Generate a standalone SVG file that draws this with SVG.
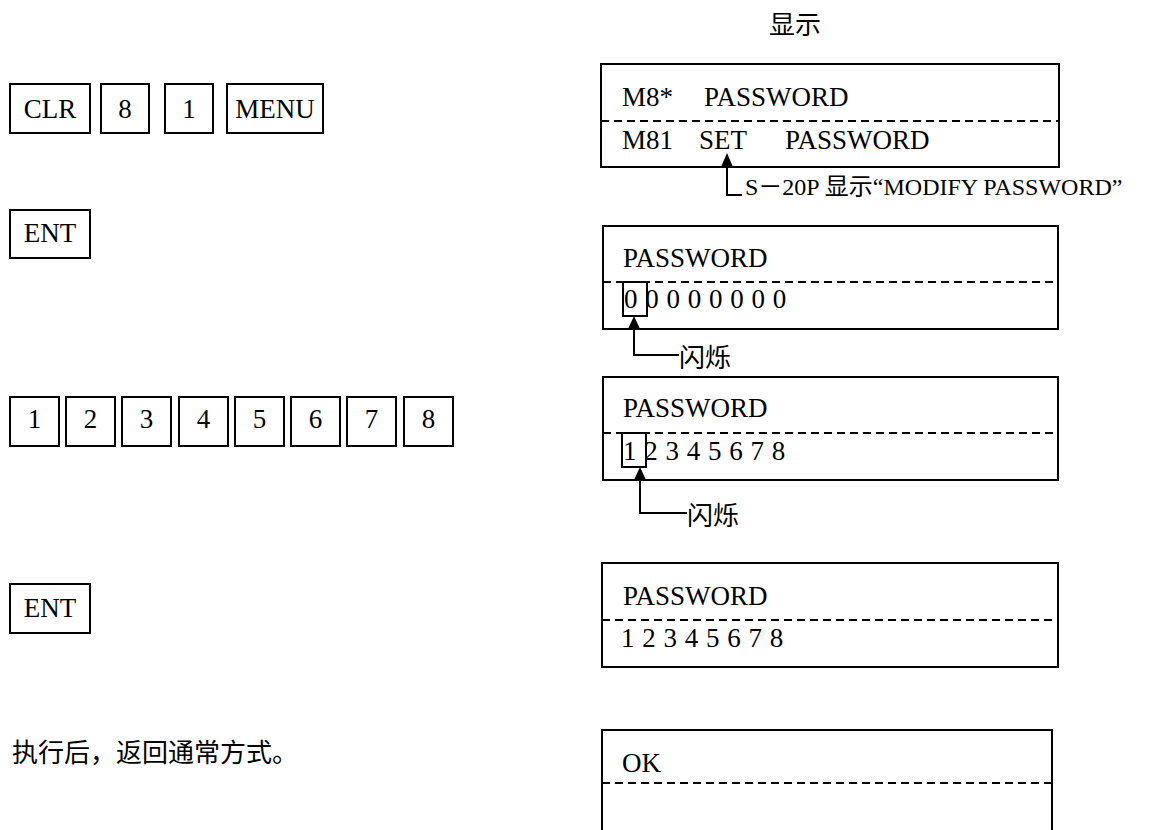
<svg xmlns="http://www.w3.org/2000/svg" width="1152" height="830" viewBox="0 0 1152 830">
<style>
.box{fill:none;stroke:#000;stroke-width:2}
.dash{stroke:#000;stroke-width:2;stroke-dasharray:8 5}
.t{font-family:"Liberation Serif","Noto Sans CJK SC",serif;font-size:27px;fill:#000}
.d{font-family:"Liberation Serif","Noto Sans CJK SC",serif;font-size:27px;fill:#000;word-spacing:1px}
.k{font-family:"Liberation Serif","Noto Sans CJK SC",serif;font-size:27px;fill:#000;text-anchor:middle}
.c{font-family:"Noto Sans CJK SC","Liberation Serif",sans-serif;font-size:26px;fill:#000}
.cap{font-family:"Liberation Serif","Noto Sans CJK SC",serif;font-size:24px;fill:#000}
.ln{fill:none;stroke:#000;stroke-width:2}
</style>
<rect width="1152" height="830" fill="#fff"/>
<g id="header"><text class="c" x="795" y="34" text-anchor="middle">显示</text></g>

<g id="keys-row1">
<rect class="box" x="10" y="84" width="80" height="49"/><text class="k" x="50" y="118">CLR</text>
<rect class="box" x="101" y="84" width="48" height="49"/><text class="k" x="125" y="118">8</text>
<rect class="box" x="165" y="84" width="48" height="49"/><text class="k" x="189" y="118">1</text>
<rect class="box" x="227" y="84" width="96" height="49"/><text class="k" x="275" y="118">MENU</text>
</g>
<g id="key-ent1"><rect class="box" x="10" y="210" width="80" height="48"/><text class="k" x="50" y="242">ENT</text></g>
<g id="keys-row3">
<rect class="box" x="10" y="397" width="49" height="49"/><text class="k" x="34.5" y="428">1</text>
<rect class="box" x="66" y="397" width="49" height="49"/><text class="k" x="90.5" y="428">2</text>
<rect class="box" x="122" y="397" width="49" height="49"/><text class="k" x="146.5" y="428">3</text>
<rect class="box" x="179" y="397" width="49" height="49"/><text class="k" x="203.5" y="428">4</text>
<rect class="box" x="235" y="397" width="49" height="49"/><text class="k" x="259.5" y="428">5</text>
<rect class="box" x="291" y="397" width="49" height="49"/><text class="k" x="315.5" y="428">6</text>
<rect class="box" x="347" y="397" width="49" height="49"/><text class="k" x="371.5" y="428">7</text>
<rect class="box" x="404" y="397" width="49" height="49"/><text class="k" x="428.5" y="428">8</text>
</g>
<g id="key-ent2"><rect class="box" x="10" y="584" width="80" height="49"/><text class="k" x="50" y="617">ENT</text></g>
<g id="note"><text class="c" x="12" y="762">执行后，返回通常方式。</text></g>

<g id="display1">
<rect class="box" x="601" y="64" width="458" height="103"/>
<line class="dash" x1="601" y1="121" x2="1059" y2="121"/>
<text class="t" x="622" y="106">M8*</text><text class="t" x="704" y="106">PASSWORD</text>
<text class="t" x="622" y="149">M81</text><text class="t" x="699" y="149">SET</text><text class="t" x="785" y="149">PASSWORD</text>
</g>
<g id="display2">
<rect class="box" x="603" y="226" width="455" height="103"/>
<line class="dash" x1="603" y1="282" x2="1058" y2="282"/>
<text class="t" x="623" y="267">PASSWORD</text>
<text class="d" x="624" y="308">0 0 0 0 0 0 0 0</text>
<rect class="box" x="623" y="282" width="24" height="34"/>
</g>
<g id="display3">
<rect class="box" x="603" y="377" width="455" height="103"/>
<line class="dash" x1="603" y1="433" x2="1058" y2="433"/>
<text class="t" x="623" y="417">PASSWORD</text>
<text class="d" x="623" y="460">1 2 3 4 5 6 7 8</text>
<rect class="box" x="622" y="433" width="24" height="34"/>
</g>
<g id="display4">
<rect class="box" x="602" y="563" width="456" height="104"/>
<line class="dash" x1="602" y1="620" x2="1058" y2="620"/>
<text class="t" x="623" y="605">PASSWORD</text>
<text class="d" x="621" y="647">1 2 3 4 5 6 7 8</text>
</g>
<g id="display5">
<rect class="box" x="602" y="730" width="450" height="120"/>
<line class="dash" x1="602" y1="783" x2="1052" y2="783"/>
<text class="t" x="622" y="772">OK</text>
</g>

<g id="connectors">
<polyline class="ln" points="727,166 727,195 742,195"/>
<polygon points="727,153 721,167 733,167" fill="#000"/>
<polyline class="ln" points="634,328 634,355 679,355"/>
<polygon points="634,316 628,329 640,329" fill="#000"/>
<polyline class="ln" points="640,479 640,513 687,513"/>
<polygon points="640,467 634,480 646,480" fill="#000"/>
</g>
<g id="labels">
<text class="cap" x="745" y="195">S－20P 显示“MODIFY PASSWORD”</text>
<text class="c" x="679" y="367">闪烁</text>
<text class="c" x="687" y="525">闪烁</text>
</g>
</svg>
